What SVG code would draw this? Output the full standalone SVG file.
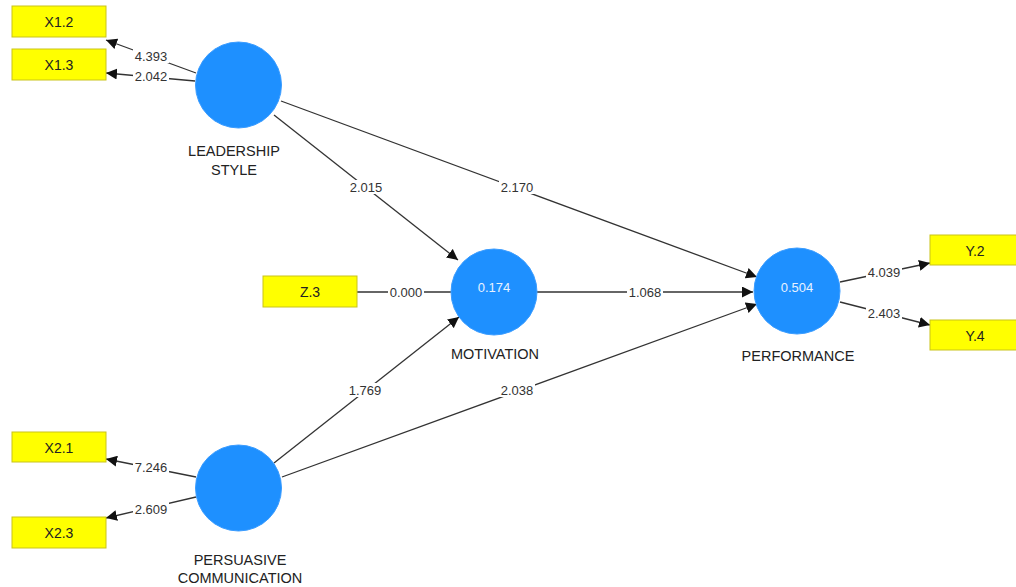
<svg xmlns="http://www.w3.org/2000/svg" width="1016" height="587" viewBox="0 0 1016 587">
<defs>
<marker id="arr" viewBox="0 0 10 10" refX="10" refY="5" markerWidth="11" markerHeight="11" markerUnits="userSpaceOnUse" orient="auto">
<path d="M0,0 L10,5 L0,10 z" fill="#111"/>
</marker>
</defs>
<style>
.ind{fill:#ffff00;stroke:#c9c41a;stroke-width:1}
.lv{fill:#1e90ff;stroke:#3a9cff;stroke-width:1}
.t{font-family:"Liberation Sans",Arial,sans-serif;font-size:14px;fill:#222;text-anchor:middle;dominant-baseline:central}
.nl{font-family:"Liberation Sans",Arial,sans-serif;font-size:14.5px;fill:#222;text-anchor:middle;dominant-baseline:central}
.tw{font-family:"Liberation Sans",Arial,sans-serif;font-size:13px;fill:#e8f2ff;text-anchor:middle;dominant-baseline:central}
.ln{stroke:#333;stroke-width:1.3;fill:none}
.a{marker-end:url(#arr)}
.bg{fill:#fff}
.lb{font-family:"Liberation Sans",Arial,sans-serif;font-size:13px;fill:#333;text-anchor:middle;dominant-baseline:central}
</style>
<rect width="1016" height="587" fill="#fff"/>
<g id="connectors">
<line class="ln a" x1="196" y1="73" x2="106" y2="40"/>
<line class="ln a" x1="195" y1="81" x2="106" y2="73"/>
<line class="ln a" x1="274" y1="115" x2="458" y2="260"/>
<line class="ln a" x1="281" y1="101" x2="757" y2="277"/>
<line class="ln" x1="357" y1="292" x2="451" y2="292"/>
<line class="ln a" x1="537" y1="292" x2="753" y2="292"/>
<line class="ln a" x1="274" y1="463" x2="459" y2="317"/>
<line class="ln a" x1="282" y1="477" x2="757" y2="304"/>
<line class="ln a" x1="840" y1="282" x2="930" y2="263"/>
<line class="ln a" x1="840" y1="302" x2="930" y2="325"/>
<line class="ln a" x1="196" y1="477" x2="106" y2="459"/>
<line class="ln a" x1="196" y1="497" x2="106" y2="518"/>
<rect class="bg" x="133" y="49" width="36" height="14"/><text class="lb" x="151" y="56">4.393</text>
<rect class="bg" x="133" y="69" width="36" height="14"/><text class="lb" x="151" y="76">2.042</text>
<rect class="bg" x="348" y="180" width="36" height="14"/><text class="lb" x="366" y="187">2.015</text>
<rect class="bg" x="499" y="180" width="36" height="14"/><text class="lb" x="517" y="187">2.170</text>
<rect class="bg" x="388" y="285" width="36" height="14"/><text class="lb" x="406" y="292">0.000</text>
<rect class="bg" x="627" y="285" width="36" height="14"/><text class="lb" x="645" y="292">1.068</text>
<rect class="bg" x="347" y="383" width="36" height="14"/><text class="lb" x="365" y="390">1.769</text>
<rect class="bg" x="499" y="383" width="36" height="14"/><text class="lb" x="517" y="390">2.038</text>
<rect class="bg" x="866" y="265" width="36" height="14"/><text class="lb" x="884" y="272">4.039</text>
<rect class="bg" x="866" y="306" width="36" height="14"/><text class="lb" x="884" y="313">2.403</text>
<rect class="bg" x="133" y="460" width="36" height="14"/><text class="lb" x="151" y="467">7.246</text>
<rect class="bg" x="133" y="502" width="36" height="14"/><text class="lb" x="151" y="509">2.609</text>
</g>
<g id="X1.2"><rect class="ind" x="12" y="6" width="94" height="31"/><text class="t" x="59" y="22">X1.2</text></g>
<g id="X1.3"><rect class="ind" x="12" y="49" width="94" height="31"/><text class="t" x="59" y="65">X1.3</text></g>
<g id="Z.3"><rect class="ind" x="263" y="276" width="94" height="31"/><text class="t" x="310" y="292">Z.3</text></g>
<g id="Y.2"><rect class="ind" x="930" y="235" width="94" height="30"/><text class="t" x="975" y="251">Y.2</text></g>
<g id="Y.4"><rect class="ind" x="930" y="320" width="94" height="30"/><text class="t" x="975" y="336">Y.4</text></g>
<g id="X2.1"><rect class="ind" x="12" y="432" width="94" height="30"/><text class="t" x="59" y="448">X2.1</text></g>
<g id="X2.3"><rect class="ind" x="12" y="517" width="94" height="31"/><text class="t" x="59" y="533">X2.3</text></g>
<g id="leadership"><circle class="lv" cx="238.5" cy="85" r="43"/><text class="nl" x="234" y="151">LEADERSHIP</text><text class="nl" x="234" y="170">STYLE</text></g>
<g id="motivation"><circle class="lv" cx="494" cy="292" r="43"/><text class="tw" x="494" y="287">0.174</text><text class="nl" x="495" y="354">MOTIVATION</text></g>
<g id="performance"><circle class="lv" cx="797" cy="291" r="43"/><text class="tw" x="797" y="287">0.504</text><text class="nl" x="798" y="356">PERFORMANCE</text></g>
<g id="persuasive"><circle class="lv" cx="238.5" cy="488" r="43"/><text class="nl" x="240" y="560">PERSUASIVE</text><text class="nl" x="240" y="578">COMMUNICATION</text></g>
</svg>
